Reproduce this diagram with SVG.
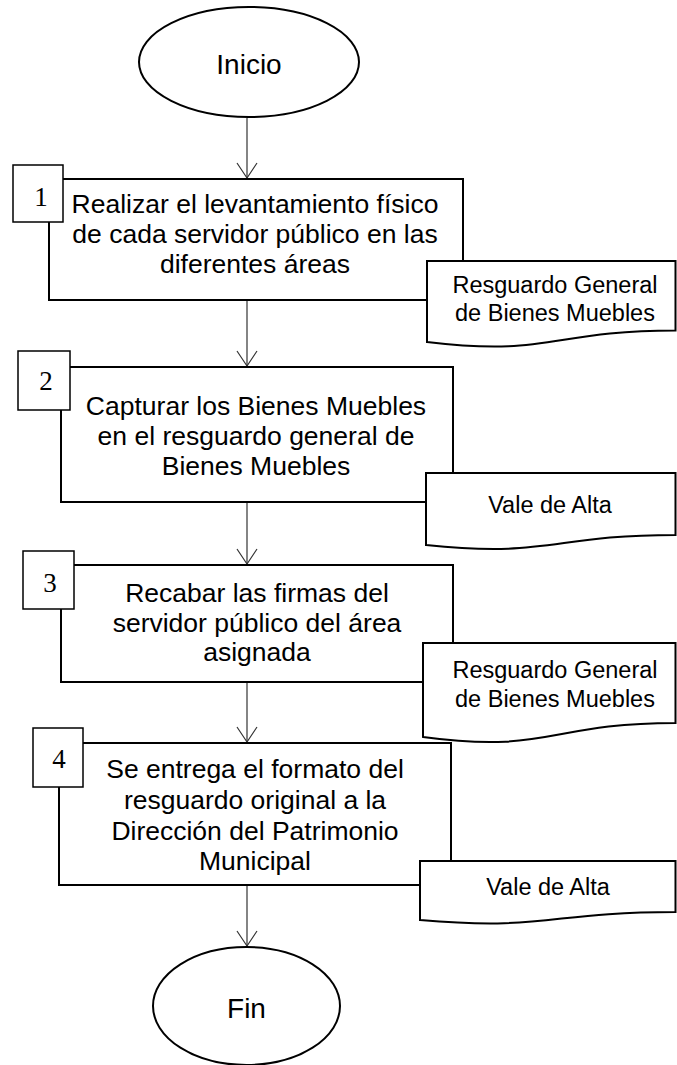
<svg xmlns="http://www.w3.org/2000/svg" width="677" height="1065" viewBox="0 0 677 1065">
<style>
.sh{fill:#fff;stroke:#000;stroke-width:2}
.nb{fill:#fff;stroke:#000;stroke-width:1.5}
.t{font-family:"Liberation Sans",Arial,sans-serif;font-size:26.5px;fill:#000;text-anchor:middle}
.dt{font-family:"Liberation Sans",Arial,sans-serif;font-size:23.5px;fill:#000;text-anchor:middle}
.tt{font-family:"Liberation Sans",Arial,sans-serif;font-size:28px;fill:#000;text-anchor:middle}
.n{font-family:"Liberation Serif","Times New Roman",serif;font-size:27px;fill:#000;text-anchor:middle}
.c{stroke:#333;stroke-width:1.2;fill:none}
</style>
<defs>
<marker id="ah" viewBox="0 0 15 20" refX="15" refY="10" markerWidth="15" markerHeight="20" markerUnits="userSpaceOnUse" orient="auto" overflow="visible">
<path d="M0,0 L15,10 L0,20" fill="none" stroke="#333" stroke-width="1.2"/>
</marker>
</defs>
<g id="connectors">
<line class="c" x1="247" y1="118" x2="247" y2="178" marker-end="url(#ah)"/>
<line class="c" x1="247" y1="301" x2="247" y2="366" marker-end="url(#ah)"/>
<line class="c" x1="247" y1="503" x2="247" y2="564" marker-end="url(#ah)"/>
<line class="c" x1="247" y1="683" x2="247" y2="742" marker-end="url(#ah)"/>
<line class="c" x1="247" y1="886" x2="247" y2="946" marker-end="url(#ah)"/>
</g>
<g id="inicio">
<ellipse class="sh" cx="249" cy="62" rx="110" ry="55"/>
<text class="tt" x="249" y="74">Inicio</text>
</g>
<g id="paso1">
<rect class="sh" x="49" y="179" width="414" height="121"/>
<text class="t" x="255" y="213">Realizar el levantamiento físico</text>
<text class="t" x="255" y="243">de cada servidor público en las</text>
<text class="t" x="255" y="273">diferentes áreas</text>
<rect class="nb" x="13" y="165" width="50" height="57"/>
<text class="n" x="41" y="206">1</text>
</g>
<g id="doc1">
<path class="sh" d="M427,261 H675.5 V330.5 C551,330.5 551,357 427,342 Z"/>
<text class="dt" x="555" y="293">Resguardo General</text>
<text class="dt" x="555" y="321">de Bienes Muebles</text>
</g>
<g id="paso2">
<rect class="sh" x="61" y="367" width="392" height="135"/>
<text class="t" x="256" y="415">Capturar los Bienes Muebles</text>
<text class="t" x="256" y="445">en el resguardo general de</text>
<text class="t" x="256" y="475">Bienes Muebles</text>
<rect class="nb" x="18" y="351" width="52" height="59"/>
<text class="n" x="46" y="390">2</text>
</g>
<g id="doc2">
<path class="sh" d="M426,473 H675.5 V535 C551,535 551,558 426,545 Z"/>
<text class="dt" x="550" y="513">Vale de Alta</text>
</g>
<g id="paso3">
<rect class="sh" x="61" y="565" width="392" height="117"/>
<text class="t" x="257" y="602">Recabar las firmas del</text>
<text class="t" x="257" y="632">servidor público del área</text>
<text class="t" x="257" y="661">asignada</text>
<rect class="nb" x="23" y="551" width="51" height="58"/>
<text class="n" x="50" y="592">3</text>
</g>
<g id="doc3">
<path class="sh" d="M423,643 H675.5 V723 C549,723 549,754 423,737 Z"/>
<text class="dt" x="555" y="678">Resguardo General</text>
<text class="dt" x="555" y="707">de Bienes Muebles</text>
</g>
<g id="paso4">
<rect class="sh" x="59" y="743" width="392" height="142"/>
<text class="t" x="255" y="778">Se entrega el formato del</text>
<text class="t" x="255" y="809">resguardo original a la</text>
<text class="t" x="255" y="840">Dirección del Patrimonio</text>
<text class="t" x="255" y="870">Municipal</text>
<rect class="nb" x="33" y="728" width="50" height="59"/>
<text class="n" x="59" y="768">4</text>
</g>
<g id="doc4">
<path class="sh" d="M420,861 H675.5 V912 C548,912 548,931 420,920 Z"/>
<text class="dt" x="548" y="895">Vale de Alta</text>
</g>
<g id="fin">
<ellipse class="sh" cx="246.5" cy="1006" rx="93.5" ry="59"/>
<text class="tt" x="246.5" y="1018">Fin</text>
</g>
</svg>
